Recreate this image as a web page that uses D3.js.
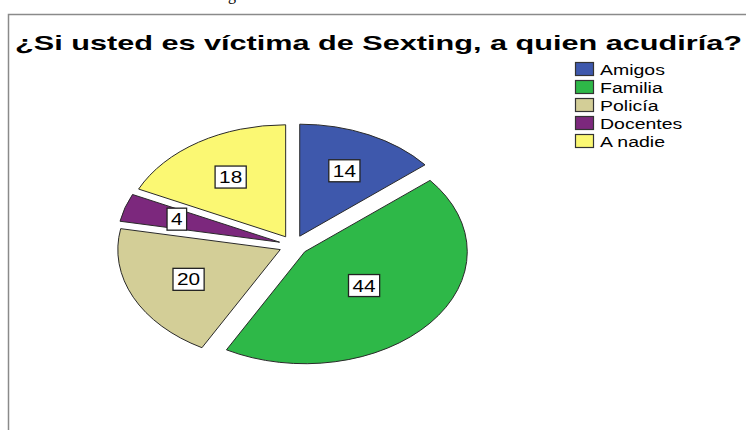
<!DOCTYPE html>
<html lang="es">
  <head>
    <meta charset="utf-8">
    <title>Sexting</title>
    <style>
      html, body { margin: 0; padding: 0; background: #fff; }
      svg { display: block; }
      text { font-family: "Liberation Sans", Arial, Helvetica, sans-serif; }
    </style>
  </head>
  <body>
    <div class="graph"></div>

    <script src="https://d3js.org/d3.v7.min.js"></script>
    <script>
      // datos
      var categorias = ['Amigos', 'Familia', 'Policía', 'Docentes', 'A nadie'];
      var valores = [14, 44, 20, 4, 18];
      var colores = ['#3e58ac', '#2eb848', '#d3ce97', '#7c287d', '#fbf873'];
      var titulo = '¿Si usted es víctima de Sexting, a quien acudiría?';

      var width = 746, height = 430;
      var cx = 293.5, cy = 245.3, rx = 162.5, ry = 112;
      var explode = 0.09;
      var stretch = 1.3;

      var svg = d3.select('.graph')
                  .append('svg')
                  .attr('width', width)
                  .attr('height', height);

      // texto cortado arriba (pie de la pagina original)
      svg.append('text')
         .attr('x', 236)
         .attr('y', 0)
         .attr('text-anchor', 'end')
         .style('font-family', '"Liberation Serif", "Times New Roman", serif')
         .style('font-size', '16px')
         .text('Gráfico 5. Víctima de sexting');

      // marco
      svg.append('path')
         .attr('d', 'M8.5,' + height + 'V14.5H' + width)
         .attr('fill', 'none')
         .attr('stroke', '#8a8a8a')
         .attr('stroke-width', 1.5);

      svg.append('text')
         .attr('x', 15)
         .attr('y', 50)
         .attr('textLength', 727)
         .attr('lengthAdjust', 'spacingAndGlyphs')
         .style('font-size', '21px')
         .style('font-weight', 'bold')
         .text(titulo);

      // escalas del circulo unidad al eliptico
      var x = d3.scaleLinear().domain([-1, 1]).range([cx - rx, cx + rx]);
      var y = d3.scaleLinear().domain([-1, 1]).range([cy - ry, cy + ry]);

      var pie = d3.pie().sort(null).value(function(d) { return d; });
      var arcs = pie(valores);
      var arc = d3.arc().innerRadius(0).outerRadius(1);

      function bisector(d) { return (d.startAngle + d.endAngle) / 2; }

      var slices = svg.append('g').selectAll('g')
                      .data(arcs)
                      .enter()
                      .append('g')
                      .attr('transform', function(d) {
                        var a = bisector(d);
                        return 'translate(' + cx + ',' + cy + ') scale(' + rx + ',' + ry + ') translate(' +
                               (explode * Math.sin(a)) + ',' + (-explode * Math.cos(a)) + ')';
                      });

      slices.append('path')
            .attr('d', arc)
            .attr('fill', function(d, i) { return colores[i]; })
            .attr('stroke', '#2a2a2a')
            .attr('stroke-width', 1)
            .attr('vector-effect', 'non-scaling-stroke');

      // etiquetas en el centroide de cada porcion
      var labels = svg.append('g').selectAll('g')
                      .data(arcs)
                      .enter()
                      .append('g')
                      .attr('transform', function(d) {
                        var a = bisector(d);
                        var half = (d.endAngle - d.startAngle) / 2;
                        var r = explode + (2 / 3) * Math.sin(half) / half;
                        return 'translate(' + x(r * Math.sin(a)) + ',' + y(-r * Math.cos(a)) + ')';
                      });

      labels.each(function(d) {
        var g = d3.select(this);
        var t = g.append('text')
                 .attr('text-anchor', 'middle')
                 .attr('y', 6)
                 .attr('transform', 'scale(' + stretch + ',1)')
                 .style('font-size', '16px')
                 .text(d.value);
        var w = t.node().getComputedTextLength() * stretch + 8;
        g.insert('rect', 'text')
         .attr('x', -w / 2)
         .attr('y', -11)
         .attr('width', w)
         .attr('height', 22)
         .attr('fill', '#fff')
         .attr('stroke', '#222')
         .attr('stroke-width', 1.3);
      });

      // leyenda
      var legend = svg.append('g').selectAll('g')
                      .data(categorias)
                      .enter()
                      .append('g')
                      .attr('transform', function(d, i) {
                        return 'translate(575,' + (62 + i * 18) + ')';
                      });

      legend.append('rect')
            .attr('x', 0.5)
            .attr('y', 0.5)
            .attr('width', 18)
            .attr('height', 13)
            .attr('fill', function(d, i) { return colores[i]; })
            .attr('stroke', '#333')
            .attr('stroke-width', 1.2);

      legend.append('text')
            .attr('transform', 'translate(25,13) scale(1.3,1)')
            .style('font-size', '15px')
            .text(function(d) { return d; });
    </script>
  </body>
</html>
